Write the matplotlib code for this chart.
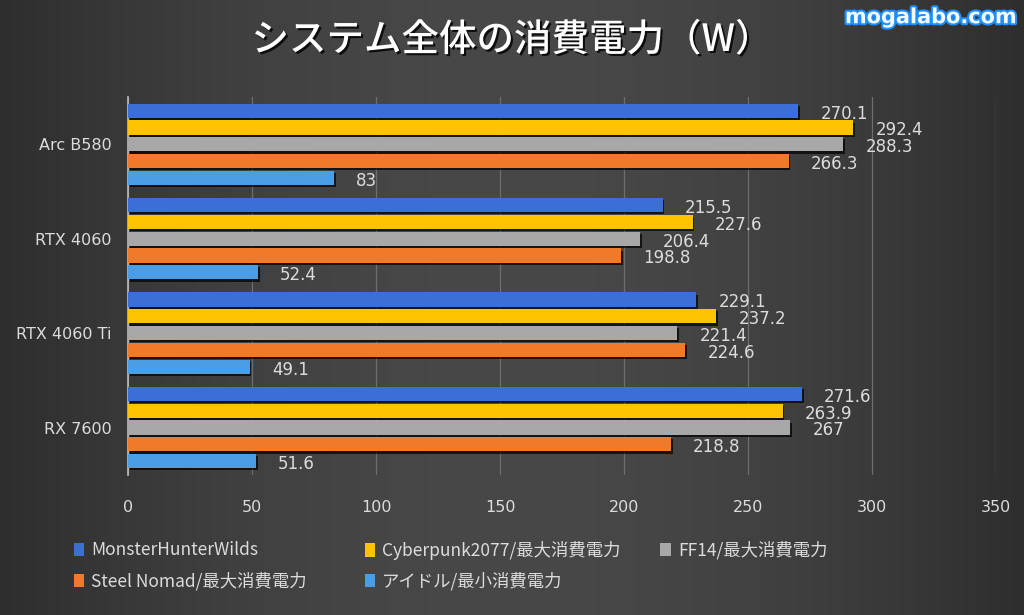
import matplotlib
matplotlib.use("Agg")
import matplotlib.pyplot as plt
import matplotlib.patheffects as pe
from matplotlib.patches import Patch
import numpy as np

plt.rcParams["font.family"] = ["Noto Sans CJK JP", "DejaVu Sans"]

BG = "#3c3c3c"
TEXT = "#dcdcdc"
GRID = "#6e6e6e"

gpus = ["Arc B580", "RTX 4060", "RTX 4060 Ti", "RX 7600"]
series = [
    "MonsterHunterWilds",
    "Cyberpunk2077/最大消費電力",
    "FF14/最大消費電力",
    "Steel Nomad/最大消費電力",
    "アイドル/最小消費電力",
]
colors = ["#3a6fd6", "#ffc400", "#a8a8a8", "#f07a28", "#4b9ee6"]

mh_wilds = [270.1, 215.5, 229.1, 271.6]
cyberpunk = [292.4, 227.6, 237.2, 263.9]
ff14 = [288.3, 206.4, 221.4, 267]
steel_nomad = [266.3, 198.8, 224.6, 218.8]
idle = [83, 52.4, 49.1, 51.6]
values = [mh_wilds, cyberpunk, ff14, steel_nomad, idle]

fig = plt.figure(figsize=(10.24, 6.15), dpi=100, facecolor=BG)

# soft background gradient: lighter in the middle, darker toward the edges
bg = fig.add_axes([0, 0, 1, 1], zorder=-10)
xx = np.linspace(-1, 1, 256)
shade = (0x48 - 0x1a * np.abs(xx) ** 1.8) / 255.0
img = np.tile(shade[None, :, None], (16, 1, 3))
bg.imshow(img, aspect="auto", extent=[0, 1, 0, 1])
bg.axis("off")

ax = fig.add_axes([0.125, 0.228, 0.848, 0.614])
ax.set_facecolor("none")

step = 0.178
height = 0.15
y = np.arange(len(gpus))
shadow = [pe.SimplePatchShadow(offset=(1.2, -1.5), shadow_rgbFace="black", alpha=0.7),
          pe.Normal()]
for i, (name, vals, c) in enumerate(zip(series, values, colors)):
    pos = y + (i - 2) * step
    bars = ax.barh(pos, vals, height=height, color=c, label=name, zorder=3)
    for b in bars:
        b.set_path_effects(shadow)
    for p, v in zip(pos, vals):
        ax.annotate(f"{v:g}", xy=(v, p), xytext=(16, -2), textcoords="offset points",
                    ha="left", va="center", fontsize=12, color=TEXT,
                    family=["DejaVu Sans"], zorder=4)

ax.set_xlim(0, 350)
ax.set_xticks(np.arange(0, 351, 50))
ax.set_ylim(len(gpus) - 0.5, -0.5)
ax.set_yticks(y)
ax.set_yticklabels(gpus)
ax.tick_params(axis="both", length=0, colors=TEXT, labelsize=11.5)
ax.tick_params(axis="x", pad=18)
ax.tick_params(axis="y", pad=12)
for lbl in ax.get_xticklabels() + ax.get_yticklabels():
    lbl.set_family(["DejaVu Sans"])
ax.grid(axis="x", color=GRID, linewidth=0.9, zorder=0)
for s in ["top", "right", "bottom"]:
    ax.spines[s].set_visible(False)
ax.spines["left"].set_color("#bdbdbd")
ax.spines["left"].set_linewidth(1.2)

fig.text(0.5, 0.935, "システム全体の消費電力（W）", ha="center", va="center",
         fontsize=27, fontweight="medium", color="white",
         path_effects=[pe.withSimplePatchShadow(offset=(1.5, -1.5), shadow_rgbFace="black", alpha=0.8)])

fig.text(0.993, 0.972, "mogalabo.com", ha="right", va="center", fontsize=15,
         fontweight="bold", color="#f4fbff", family=["DejaVu Sans"],
         path_effects=[pe.withStroke(linewidth=3, foreground="#1e8fff")])

# legend entries placed as in the reference (two rows)
legend_pos = [(0.072, 0.105), (0.356, 0.105), (0.645, 0.105),
              (0.072, 0.055), (0.356, 0.055)]
for name, c, (lx, ly) in zip(series, colors, legend_pos):
    fig.legend(handles=[Patch(facecolor=c, label=name)], loc="center left",
               bbox_to_anchor=(lx, ly), frameon=False, fontsize=12.5,
               labelcolor=TEXT, handlelength=0.6, handleheight=0.8,
               handletextpad=0.4, borderpad=0, borderaxespad=0)

fig.savefig("out.png", dpi=100, facecolor=BG)
